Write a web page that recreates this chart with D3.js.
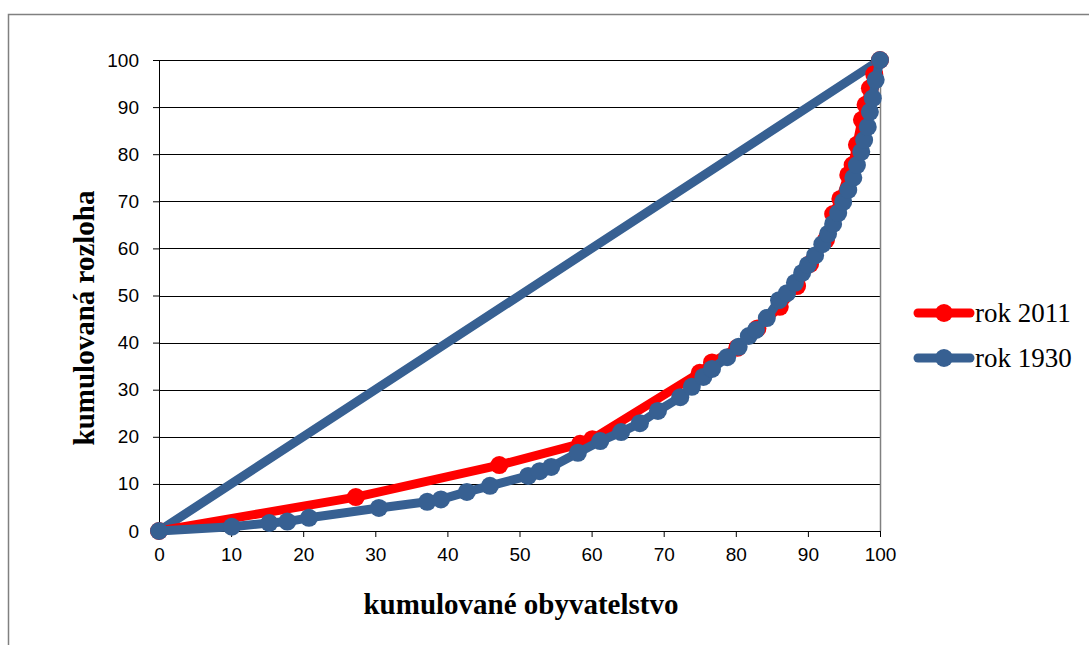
<!DOCTYPE html>
<html>
<head>
<meta charset="utf-8">
<script src="https://cdn.jsdelivr.net/npm/d3@7"></script>
<style>
  body { margin: 0; background: #fff; }
  svg { display: block; }
</style>
</head>
<body>
<div id="chart"></div>
<script>
// rok 2011
const x2011 = [0, 27.3, 47.2, 58.4, 60.1, 75.0, 76.7, 80.2, 83.0, 86.1, 88.5, 90.3, 92.5, 93.5, 94.5, 95.6, 96.2, 96.8, 97.5, 98.0, 98.6, 99.2, 100];
const y2011 = [0, 7.2, 14.0, 18.5, 19.5, 33.6, 35.8, 38.9, 43.0, 47.6, 52.0, 56.7, 61.8, 67.3, 70.5, 75.6, 77.7, 82.0, 87.3, 90.5, 94.0, 97.0, 100];
// rok 1930
const x1930 = [0, 10.1, 15.3, 17.8, 20.8, 30.5, 37.2, 39.1, 42.7, 45.9, 51.2, 52.8, 54.4, 58.1, 61.2, 64.1, 66.7, 69.2, 72.3, 73.9, 75.5, 76.7, 78.8, 80.4, 81.8, 82.8, 84.3, 86.0, 87.1, 88.2, 89.2, 90.0, 91.0, 92.0, 92.8, 93.5, 94.2, 94.9, 95.6, 96.3, 96.8, 97.4, 97.8, 98.3, 98.6, 99.0, 99.4, 100];
const y1930 = [0, 0.9, 1.7, 2.0, 2.8, 4.9, 6.2, 6.7, 8.3, 9.6, 11.7, 12.7, 13.6, 16.6, 19.1, 21.0, 22.9, 25.5, 28.4, 30.6, 32.7, 34.4, 36.9, 39.1, 41.4, 42.7, 45.2, 49.0, 50.5, 52.7, 54.8, 56.5, 58.5, 60.9, 63.1, 65.2, 67.5, 69.9, 72.4, 75.0, 77.7, 80.5, 83.0, 85.8, 89.0, 91.9, 95.8, 100];
// line of equality
const xEq = [0, 100];
const yEq = [0, 100];

const xTicks = [0, 10, 20, 30, 40, 50, 60, 70, 80, 90, 100];
const yTicks = [0, 10, 20, 30, 40, 50, 60, 70, 80, 90, 100];
const seriesNames = ["rok 2011", "rok 1930"];
const seriesColors = ["#ff0000", "#376092"];

const width = 1089;
const height = 645;
const margin = {top: 60, right: 209, bottom: 114, left: 159};
const innerWidth = width - margin.left - margin.right;
const innerHeight = height - margin.top - margin.bottom;

const xScale = d3.scaleLinear().domain([0, 100]).range([0, innerWidth]);
const yScale = d3.scaleLinear().domain([0, 100]).range([innerHeight, 0]);

const svg = d3.select("#chart")
    .append("svg")
        .attr("width", width)
        .attr("height", height);

// outer chart border (left and top, the rest runs off the page)
svg.append("path")
    .attr("d", `M8.5,${height} V14.5 H${width}`)
    .attr("fill", "none")
    .attr("stroke", "#808080")
    .attr("stroke-width", 1.5);

const group = svg.append("g")
    .attr("transform", `translate(${margin.left}, ${margin.top})`);

// grid lines
group.selectAll(".grid")
    .data(yTicks.filter(d => d > 0))
    .enter()
    .append("line")
        .attr("x1", 0)
        .attr("x2", innerWidth)
        .attr("y1", d => Math.round(yScale(d)) + 0.5)
        .attr("y2", d => Math.round(yScale(d)) + 0.5)
        .attr("stroke", "#000")
        .attr("stroke-width", 1);

// right border of plot area
group.append("line")
    .attr("x1", innerWidth + 0.5)
    .attr("x2", innerWidth + 0.5)
    .attr("y1", 0)
    .attr("y2", innerHeight)
    .attr("stroke", "#808080")
    .attr("stroke-width", 1.5);

const xAxis = group.append("g")
    .attr("transform", `translate(0, ${innerHeight})`)
    .call(d3.axisBottom(xScale).tickValues(xTicks).tickSize(6).tickPadding(11));

const yAxis = group.append("g")
    .call(d3.axisLeft(yScale).tickValues(yTicks).tickSize(6).tickPadding(14));

[xAxis, yAxis].forEach(ax => {
    ax.selectAll("path, line").attr("stroke", "#000");
    ax.selectAll("text")
        .attr("font-family", "Liberation Sans, Arial, sans-serif")
        .attr("font-size", 19)
        .attr("fill", "#000");
});

const line = d3.line()
    .x(d => xScale(d[0]))
    .y(d => yScale(d[1]));

const series = [
    {name: seriesNames[0], color: seriesColors[0], pts: d3.zip(x2011, y2011)},
    {name: seriesNames[1], color: seriesColors[1], pts: d3.zip(x1930, y1930)}
];

// equality line in the 1930 colour
group.append("path")
    .datum(d3.zip(xEq, yEq))
    .attr("d", line)
    .attr("fill", "none")
    .attr("stroke", seriesColors[1])
    .attr("stroke-width", 9)
    .attr("stroke-linecap", "round");

series.forEach(s => {
    group.append("path")
        .datum(s.pts)
        .attr("d", line)
        .attr("fill", "none")
        .attr("stroke", s.color)
        .attr("stroke-width", 9)
        .attr("stroke-linejoin", "round");
    group.selectAll(null)
        .data(s.pts)
        .enter()
        .append("circle")
            .attr("cx", d => xScale(d[0]))
            .attr("cy", d => yScale(d[1]))
            .attr("r", 9)
            .attr("fill", s.color);
});

// axis titles
svg.append("text")
    .text("kumulované obyvatelstvo")
    .attr("x", 521)
    .attr("y", 614)
    .attr("text-anchor", "middle")
    .attr("font-family", "Liberation Serif, Times New Roman, serif")
    .attr("font-weight", "bold")
    .attr("font-size", 29);

svg.append("text")
    .text("kumulovaná rozloha")
    .attr("transform", "translate(94, 318) rotate(-90)")
    .attr("text-anchor", "middle")
    .attr("font-family", "Liberation Serif, Times New Roman, serif")
    .attr("font-weight", "bold")
    .attr("font-size", 29);

// legend
const legend = svg.append("g").attr("transform", "translate(918, 313)");
series.forEach((s, i) => {
    const g = legend.append("g").attr("transform", `translate(0, ${i * 45})`);
    g.append("line")
        .attr("x1", 0).attr("x2", 52)
        .attr("y1", 0).attr("y2", 0)
        .attr("stroke", s.color)
        .attr("stroke-width", 9)
        .attr("stroke-linecap", "round");
    g.append("circle")
        .attr("cx", 26).attr("cy", 0).attr("r", 9)
        .attr("fill", s.color);
    g.append("text")
        .text(s.name)
        .attr("x", 57)
        .attr("y", 9)
        .attr("font-family", "Liberation Serif, Times New Roman, serif")
        .attr("font-size", 27)
        .attr("fill", "#000");
});
</script>
</body>
</html>
